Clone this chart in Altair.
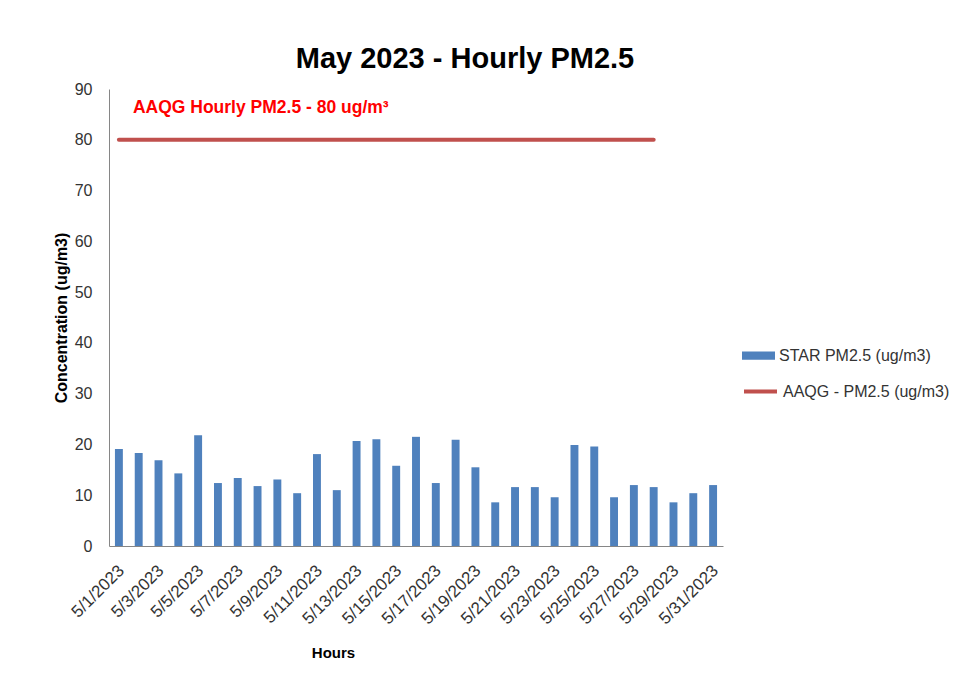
import altair as alt
import pandas as pd

DATES = ["5/1/2023", "5/2/2023", "5/3/2023", "5/4/2023", "5/5/2023", "5/6/2023",
         "5/7/2023", "5/8/2023", "5/9/2023", "5/10/2023", "5/11/2023", "5/12/2023",
         "5/13/2023", "5/14/2023", "5/15/2023", "5/16/2023", "5/17/2023", "5/18/2023",
         "5/19/2023", "5/20/2023", "5/21/2023", "5/22/2023", "5/23/2023", "5/24/2023",
         "5/25/2023", "5/26/2023", "5/27/2023", "5/28/2023", "5/29/2023", "5/30/2023",
         "5/31/2023"]
STAR_PM25 = [19.1, 18.3, 16.9, 14.3, 21.8, 12.4, 13.4, 11.8, 13.1, 10.4, 18.1, 11.0,
             20.7, 21.0, 15.8, 21.5, 12.4, 20.9, 15.5, 8.6, 11.6, 11.6, 9.6, 19.9,
             19.6, 9.6, 12.0, 11.6, 8.6, 10.4, 12.0]
LIMIT_DATES = DATES[:28]
LIMIT_VALUE = 80
TICK_LABELS = DATES[::2]
STAR_NAME = "STAR PM2.5 (ug/m3)"
AAQG_NAME = "AAQG - PM2.5 (ug/m3)"
NOTE_TEXT = "AAQG Hourly PM2.5 - 80 ug/m\u00b3"

bars_df = pd.DataFrame({"date": DATES, "value": STAR_PM25, "series": STAR_NAME})
line_df = pd.DataFrame({"date": LIMIT_DATES, "value": [LIMIT_VALUE] * len(LIMIT_DATES),
                        "series": AAQG_NAME})
note_df = pd.DataFrame({"date": [DATES[0]], "value": [LIMIT_VALUE], "label": [NOTE_TEXT]})

FONT = "Liberation Sans"

x_enc = alt.X(
    "date:N",
    sort=DATES,
    scale=alt.Scale(domain=DATES, paddingInner=0.6, paddingOuter=0.3),
    axis=alt.Axis(
        values=TICK_LABELS, labelAngle=-45, labelAlign="right", labelBaseline="top",
        labelFontSize=17, labelColor="#333333", labelPadding=16, labelOffset=-3,
        ticks=False, domainColor="#868686", title="Hours", titleFontSize=15,
        titleFontWeight="bold", titleColor="#000000", titleX=224, titleY=111,
        titleAlign="center", titleBaseline="alphabetic", labelFont=FONT, titleFont=FONT,
        grid=False,
    ),
)

y_enc = alt.Y(
    "value:Q",
    scale=alt.Scale(domain=[0, 90], nice=False),
    axis=alt.Axis(
        values=list(range(0, 91, 10)), labelFontSize=16, labelColor="#333333",
        labelPadding=17, ticks=False, domainColor="#868686",
        title="Concentration (ug/m3)", titleFontSize=16, titleFontWeight="bold",
        titleColor="#000000", titlePadding=5, grid=False, labelFont=FONT, titleFont=FONT,
    ),
)

bars = alt.Chart(bars_df).mark_bar().encode(
    x=x_enc,
    y=y_enc,
    fill=alt.Fill(
        "series:N",
        scale=alt.Scale(domain=[STAR_NAME], range=["#4F81BD"]),
        legend=alt.Legend(
            title=None, orient="none", legendX=633, legendY=250, padding=0,
            symbolType="M-1,-0.25H1V0.25H-1Z", symbolSize=1089, symbolStrokeWidth=0,
            labelFontSize=16, labelColor="#333333", labelFont=FONT, labelOffset=4,
            labelLimit=400,
        ),
    ),
)

line = alt.Chart(line_df).mark_line(strokeWidth=4, strokeCap="round").encode(
    x=alt.X("date:N", sort=DATES),
    y=alt.Y("value:Q"),
    stroke=alt.Stroke(
        "series:N",
        scale=alt.Scale(domain=[AAQG_NAME], range=["#C0504D"]),
        legend=alt.Legend(
            title=None, orient="none", legendX=633, legendY=284, padding=0,
            symbolType="stroke", symbolSize=1089, symbolStrokeWidth=4,
            labelFontSize=16, labelColor="#333333", labelFont=FONT, labelOffset=4,
            labelLimit=400,
        ),
    ),
)

note = alt.Chart(note_df).mark_text(
    align="left", baseline="alphabetic", dx=14, dy=-27, fontSize=17.5,
    fontWeight="bold", color="#FF0000", font=FONT,
).encode(
    x=alt.X("date:N", sort=DATES),
    y=alt.Y("value:Q"),
    text="label:N",
)

chart = alt.layer(bars, line, note).properties(
    width=614,
    height=457,
    title=alt.TitleParams(
        "May 2023 - Hourly PM2.5", fontSize=29, fontWeight="bold", font=FONT,
        color="#000000", anchor="middle", dx=49, dy=38, offset=22, baseline="alphabetic",
    ),
    autosize=alt.AutoSizeParams(type="none"),
    padding={"left": 101, "top": 81, "right": 228, "bottom": 124},
).configure(font=FONT, view=alt.ViewConfig(stroke=None))

chart.save("out.html", embed_options={"renderer": "svg", "actions": False})
